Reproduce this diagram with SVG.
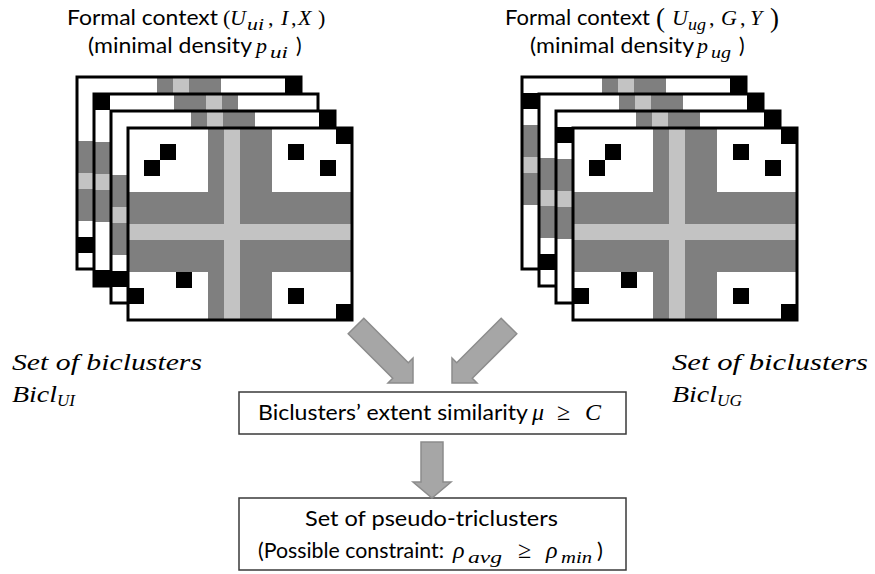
<svg xmlns="http://www.w3.org/2000/svg" xmlns:xlink="http://www.w3.org/1999/xlink" width="875" height="574" viewBox="0 0 875 574">
<style>
.sans{font-family:Lato,"Liberation Sans",Arial,sans-serif;fill:#000}
.t{font-size:21px}
.b{font-size:22px}
.m{font-family:"Liberation Serif","Times New Roman",serif;font-size:22px;fill:#000}
.i{font-style:italic}
.sub{font-family:"Liberation Serif","Times New Roman",serif;font-size:16px;font-style:italic;fill:#000}
.lab{font-family:"Liberation Serif","Times New Roman",serif;font-style:italic;font-size:24px;fill:#000}
.dk{fill:#7f7f7f}
.lt{fill:#c3c3c3}
.bk{fill:#000}
.frame{fill:none;stroke:#000;stroke-width:3}
.box{fill:#fff;stroke:#3a3a3a;stroke-width:1.5}
.arr{fill:#a6a6a6;stroke:#8c8c8c;stroke-width:1.5;stroke-linejoin:miter}
</style>
<defs>
<g id="patP">
<rect width="224" height="192" fill="#fff"/>
<rect class="dk" x="80" y="0" width="16" height="192"/>
<rect class="dk" x="112" y="0" width="32" height="192"/>
<rect class="dk" x="0" y="64" width="224" height="32"/>
<rect class="dk" x="0" y="112" width="224" height="32"/>
<rect class="lt" x="96" y="0" width="16" height="192"/>
<rect class="lt" x="0" y="96" width="224" height="16"/>
<rect class="bk" x="32" y="16" width="16" height="16"/>
<rect class="bk" x="16" y="32" width="16" height="16"/>
<rect class="bk" x="160" y="16" width="16" height="16"/>
<rect class="bk" x="192" y="32" width="16" height="16"/>
<rect class="bk" x="208" y="0" width="16" height="16"/>
<rect class="bk" x="48" y="144" width="16" height="16"/>
<rect class="bk" x="0" y="160" width="16" height="16"/>
<rect class="bk" x="160" y="160" width="16" height="16"/>
<rect class="bk" x="208" y="176" width="16" height="16"/>
<rect class="frame" width="224" height="192"/>
</g>
<g id="patQ">
<rect width="224" height="192" fill="#fff"/>
<rect class="dk" x="80" y="0" width="32" height="192"/>
<rect class="dk" x="128" y="0" width="16" height="192"/>
<rect class="dk" x="0" y="48" width="224" height="32"/>
<rect class="dk" x="0" y="96" width="224" height="32"/>
<rect class="lt" x="112" y="0" width="16" height="192"/>
<rect class="lt" x="0" y="80" width="224" height="16"/>
<rect class="bk" x="0" y="0" width="16" height="16"/>
<rect class="bk" x="0" y="176" width="16" height="16"/>
<rect class="frame" width="224" height="192"/>
</g>
<g id="patR">
<rect width="224" height="192" fill="#fff"/>
<rect class="dk" x="80" y="0" width="16" height="192"/>
<rect class="dk" x="112" y="0" width="32" height="192"/>
<rect class="dk" x="0" y="48" width="224" height="32"/>
<rect class="dk" x="0" y="96" width="224" height="32"/>
<rect class="lt" x="96" y="0" width="16" height="192"/>
<rect class="lt" x="0" y="80" width="224" height="16"/>
<rect class="bk" x="0" y="16" width="16" height="16"/>
<rect class="bk" x="208" y="0" width="16" height="16"/>
<rect class="frame" width="224" height="192"/>
</g>
</defs>

<g id="context-ui">
<text class="sans t" x="67" y="25" textLength="151" lengthAdjust="spacingAndGlyphs">Formal context</text>
<text class="m" y="25"><tspan x="223">(</tspan><tspan x="230" class="i">U</tspan></text>
<text class="sub" x="247" y="30" textLength="17" lengthAdjust="spacingAndGlyphs">ui</text>
<text class="m" y="25"><tspan x="268">,</tspan><tspan x="281" class="i">I</tspan><tspan x="291">,</tspan><tspan x="298" class="i">X</tspan><tspan x="318">)</tspan></text>
<text class="sans t" x="88" y="53" textLength="164" lengthAdjust="spacingAndGlyphs">(minimal density</text>
<text class="m i" x="256" y="53">p</text>
<text class="sub" x="270" y="58" textLength="18" lengthAdjust="spacingAndGlyphs">ui</text>
<text class="sans t" x="296" y="53">)</text>
<use xlink:href="#patP" href="#patP" transform="translate(77,77)"/>
<use xlink:href="#patQ" href="#patQ" transform="translate(94,94)"/>
<use xlink:href="#patP" href="#patP" transform="translate(111,111)"/>
<use xlink:href="#patP" href="#patP" transform="translate(128,128)"/>
</g>

<g id="context-ug">
<text class="sans t" x="505" y="25" textLength="145" lengthAdjust="spacingAndGlyphs">Formal context</text>
<text class="m" x="656" y="27" style="font-size:27px">(</text>
<text class="m i" x="672" y="25">U</text>
<text class="sub" x="688" y="30" textLength="18" lengthAdjust="spacingAndGlyphs">ug</text>
<text class="m" y="25"><tspan x="709">,</tspan><tspan x="721" class="i">G</tspan><tspan x="740">,</tspan><tspan x="750" class="i">Y</tspan></text>
<text class="m" x="770" y="27" style="font-size:27px">)</text>
<text class="sans t" x="530" y="53" textLength="164" lengthAdjust="spacingAndGlyphs">(minimal density</text>
<text class="m i" x="697" y="53">p</text>
<text class="sub" x="711" y="58" textLength="20" lengthAdjust="spacingAndGlyphs">ug</text>
<text class="sans t" x="739" y="53">)</text>
<use xlink:href="#patR" href="#patR" transform="translate(522,77)"/>
<use xlink:href="#patP" href="#patP" transform="translate(539,94)"/>
<use xlink:href="#patR" href="#patR" transform="translate(556,111)"/>
<use xlink:href="#patP" href="#patP" transform="translate(573,128)"/>
</g>

<g id="bicl-ui">
<text class="lab" x="12" y="370" textLength="190" lengthAdjust="spacingAndGlyphs">Set of biclusters</text>
<text class="lab" x="12" y="402" textLength="45" lengthAdjust="spacingAndGlyphs">Bicl</text>
<text class="lab" x="57" y="406" style="font-size:16px" textLength="18" lengthAdjust="spacingAndGlyphs">UI</text>
</g>

<g id="bicl-ug">
<text class="lab" x="672" y="370" textLength="196" lengthAdjust="spacingAndGlyphs">Set of biclusters</text>
<text class="lab" x="672" y="402" textLength="45" lengthAdjust="spacingAndGlyphs">Bicl</text>
<text class="lab" x="717" y="406" style="font-size:16px" textLength="25" lengthAdjust="spacingAndGlyphs">UG</text>
</g>

<g id="similarity">
<rect class="box" x="239" y="392" width="387" height="42"/>
<text class="sans b" x="258" y="420" textLength="270" lengthAdjust="spacingAndGlyphs">Biclusters’ extent similarity</text>
<text class="m" y="420" style="font-size:24px"><tspan x="532" class="i">μ</tspan><tspan x="557">≥</tspan><tspan x="585" class="i">C</tspan></text>
</g>

<g id="pseudo-triclusters">
<rect class="box" x="239" y="498" width="387" height="72"/>
<text class="sans b" x="305" y="526" textLength="253" lengthAdjust="spacingAndGlyphs">Set of pseudo-triclusters</text>
<text class="sans b" x="258" y="558" textLength="186" lengthAdjust="spacingAndGlyphs">(Possible constraint:</text>
<text class="m i" x="453" y="558" style="font-size:24px">ρ</text>
<text class="sub" x="468" y="563" textLength="34" lengthAdjust="spacingAndGlyphs">avg</text>
<text class="m" x="518" y="558" style="font-size:24px">≥</text>
<text class="m i" x="546" y="558" style="font-size:24px">ρ</text>
<text class="sub" x="561" y="563" textLength="31" lengthAdjust="spacingAndGlyphs">min</text>
<text class="sans b" x="597" y="558">)</text>
</g>

<g id="connectors">
<polygon class="arr" points="363.8,318.2 408.3,362.7 413,358 413,383 388,383 392.7,378.3 348.2,333.8"/>
<polygon class="arr" points="501.2,318.2 456.7,362.7 452,358 452,383 477,383 472.3,378.3 516.8,333.8"/>
<polygon class="arr" points="421,442 443,442 443,482 451,482 432,498 413,482 421,482"/>
</g>
</svg>
